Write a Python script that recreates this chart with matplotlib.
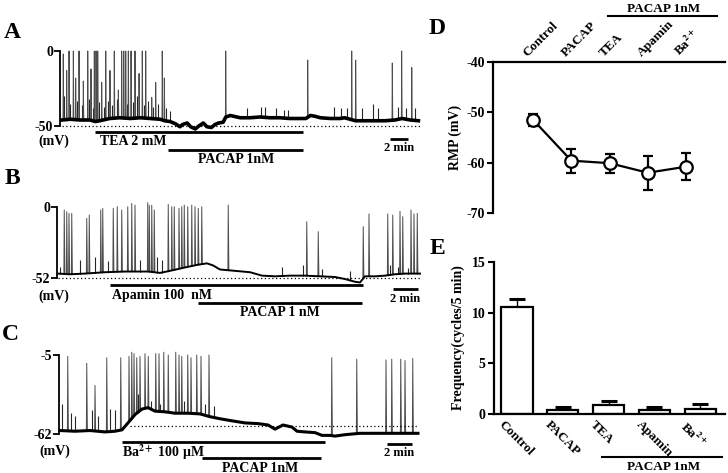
import matplotlib
matplotlib.use('Agg')
import numpy as np
import matplotlib.pyplot as plt
from matplotlib import transforms
from matplotlib.lines import Line2D

plt.rcParams['font.family'] = ['Liberation Serif', 'DejaVu Serif']
plt.rcParams['font.weight'] = 'bold'
plt.rcParams['axes.unicode_minus'] = False
plt.rcParams['mathtext.fontset'] = 'stix'

# ---------------- data ----------------
# Trace A (time in min, membrane potential in mV)
a_base_t = [0, 0.9, 2.0, 3.1, 3.7, 4.2, 5.3, 6.4, 7.6, 8.7, 9.8, 10.9, 11.4, 12.0, 12.6, 13.1,
            13.4, 13.9, 14.3, 14.8, 15.2, 15.7, 16.1, 16.6, 17.0, 17.4, 17.9, 18.2, 18.7, 19.8,
            20.9, 22.0, 23.1, 24.2, 25.3, 26.4, 27.1, 27.6, 28.1, 28.7, 29.8, 30.9, 31.4, 32.0,
            32.6, 33.7, 34.8, 35.9, 37.0, 37.8, 38.7, 39.6]
a_base_v = [-46, -45.5, -46, -46, -47, -46.5, -45, -44.5, -45, -44.5, -45, -45.5, -46.5, -47,
            -48.5, -50.5, -49, -48, -50.5, -52, -50, -48, -50.5, -51, -49, -48, -47.5, -44, -43,
            -44.5, -44.5, -44, -44.5, -44.5, -45, -45, -45, -43, -43.5, -44.5, -45, -45, -44.5,
            -45.5, -46.5, -46.5, -46.5, -46.5, -46, -45, -46, -46.5]
a_spk_t = [0.14, 0.52, 0.78, 1.26, 1.52, 1.89, 2.37, 2.86, 3.22, 3.59, 3.78, 3.97, 4.41, 4.86,
           5.33, 5.81, 6.26, 6.63, 6.86, 7.08, 7.37, 7.67, 8.11, 8.56, 8.92, 9.30, 9.97, 10.41,
           11.14, 11.37, 18.19, 27.3, 32.19, 32.63, 36.7, 37.74, 38.86]
a_spk_v = [-2, -13, 0, 0, -18, 0, -20, 0, -12, 0, 0, 0, -21, 0, -13, 0, -26, 0, 0, 0, 0, 0, 0,
           -15, 0, 0, -31, -21, 0, -18, 0, -6, 0, -6, -8, 0, -11]
a_evt_t = [0.22, 0.89, 1.67, 2.22, 3.0, 3.44, 4.11, 4.67, 5.11, 5.56, 6.11, 7.22, 7.89, 8.33,
           9.11, 9.56, 10.11, 10.67, 11.56, 12.0, 20.52, 22.11, 22.56, 23.74, 24.7, 25.14, 30.22,
           31.0, 31.63, 33.3, 34.59, 35.08, 37.37, 38.19, 39.22]
a_evt_v = [-30, -35, -33, -36, -32, -38, -34, -37, -33, -36, -32, -35, -34, -30, -36, -33, -37,
           -35, -38, -40, -38, -37, -37, -38, -39, -39, -37, -38, -38, -38, -35, -38, -37, -38, -38]
a_tea = (3.67, 26.8)
a_pacap = (11.8, 26.8)

# Trace B
b_base_t = [0, 0.96, 2.16, 3.76, 5.36, 7.2, 8.16, 8.96, 10.16, 11.2, 11.92, 12.4, 12.96, 14.16,
            15.36, 16.32, 17.36, 18.56, 19.76, 20.96, 22.16, 22.96, 23.76, 24.16, 24.56, 25.36,
            26.16, 26.96, 27.76, 28.96]
b_base_v = [-49, -49.5, -49, -48, -47.5, -47.5, -48.5, -47, -44.5, -42.5, -41.5, -43, -46, -47,
            -48, -50.5, -51, -50.5, -50.5, -51, -51.5, -53, -55, -55.5, -51, -51, -50.5, -49.5,
            -49, -49]
b_spk_t = [0.5, 0.7, 0.88, 1.1, 2.3, 2.5, 3.42, 3.58, 4.42, 4.74, 5.1, 5.58, 5.9, 6.16, 7.18,
           7.3, 7.5, 7.7, 8.82, 9.1, 9.3, 9.68, 9.9, 10.1, 10.38, 10.7, 10.96, 11.22, 11.5, 13.62,
           19.9, 20.82, 24.42, 24.88, 26.38, 26.78, 27.36, 27.58, 28.24, 28.48, 28.74]
b_spk_v = [-2.4, -3.7, -4.9, -4.9, -8.5, -6.1, -2.4, -1.2, -1.2, 0, -2.4, 0, 2.4, 1.2, 3, 1, 1,
           -2.4, 1.7, 0, 0, -1.2, 0, 1.2, 0, 1.2, 0, -1.2, 0, 1.2, -11, -18.3, -14.6, -5.3, -5.3,
           -6.1, -3.4, -7.3, -2.4, -5.3, -4.9]
b_evt_t = [0.16, 1.76, 2.96, 4.02, 6.56, 7.9, 8.3, 17.9, 19.62, 21.14, 23.36, 26.56, 27.18, 28.0, 28.7]
b_evt_v = [-44, -39, -37, -40, -39, -37, -39, -44, -43, -46, -47, -43, -44, -45, -44]
b_apamin = (4.16, 24.4)
b_pacap = (11.2, 24.3)

# Trace C
c_base_t = [0, 1.2, 2.4, 3.6, 4.4, 4.96, 5.44, 6.0, 6.56, 7.04, 7.6, 8.4, 9.2, 10.24, 11.2, 12.0,
            12.8, 13.76, 14.8, 15.84, 16.64, 17.2, 17.84, 18.56, 18.96, 19.6, 20.4, 20.96, 21.6,
            22.0, 22.8, 24.0, 25.2, 26.4, 27.6, 28.64]
c_base_v = [-59.5, -60, -59.5, -60.5, -60, -59, -54, -48, -44, -43, -45.5, -46, -47, -47, -47.5,
            -49.5, -51, -52.5, -54, -54.5, -55.5, -58.5, -55.5, -57, -60, -60.5, -61, -63, -63,
            -63.5, -62.5, -61.5, -61.5, -61.5, -61.5, -61.5]
c_spk_t = [0.62, 2.14, 2.8, 3.74, 4.86, 5.52, 5.74, 5.92, 6.14, 6.4, 6.8, 7.06, 7.66, 7.92, 8.3,
           8.66, 9.26, 9.52, 9.74, 10.22, 10.48, 10.94, 11.28, 11.92, 21.74, 23.74, 26.08, 26.54,
           27.26, 27.6, 28.22]
c_spk_v = [-6, -11, -27, -7, -7, -6, -3, -4, -7, -6, -4, -6, -4, -4, -3, -5, -3, -5, -6, -5, -7,
           -5, -6, -5, -7, -8, -8.5, -8, -8, -9, -7.5]
c_evt_t = [0.14, 0.88, 1.2, 2.54, 3.06, 4.0, 4.4, 6.2, 7.3, 8.0, 9.9, 11.6, 12.3]
c_evt_v = [-40, -47, -49, -45, -49, -44, -45, -33, -38, -40, -38, -40, -42]
c_ba = (4.96, 21.2)
c_pacap = (11.36, 20.88)

# Panel D: resting membrane potential
groups = ['Control', 'PACAP', 'TEA', 'Apamin', 'Ba$^{\\mathbf{2+}}$']
rmp_mean = [-51.5, -59.6, -60.1, -62.0, -60.8]
rmp_err = [1.2, 2.4, 1.9, 3.4, 2.7]

# Panel E: frequency
freq_mean = [10.6, 0.4, 0.9, 0.4, 0.5]
freq_err = [0.75, 0.25, 0.35, 0.25, 0.5]

# ---------------- figure ----------------
W, H = 728, 473
fig = plt.figure(figsize=(W / 100, H / 100), dpi=100)
FS = 10


def fx(x):
    return x / W


def fy(y):
    return 1 - y / H


def trace_axes(x0, x1, y0, y1, t0_px, ppm, v_ref, y_ref, ppv):
    ax = fig.add_axes([fx(x0), fy(y1), (x1 - x0) / W, (y1 - y0) / H])
    ax.set_xlim((x0 - t0_px) / ppm, (x1 - t0_px) / ppm)
    ax.set_ylim(v_ref - (y1 - y_ref) / ppv, v_ref + (y_ref - y0) / ppv)
    ax.patch.set_visible(False)
    for s in ['top', 'right', 'bottom']:
        ax.spines[s].set_visible(False)
    ax.set_xticks([])

    def yv(ypx):
        return v_ref - (ypx - y_ref) / ppv

    def tx(xpx):
        return (xpx - t0_px) / ppm
    return ax, yv, tx


def draw_trace(ax, bt, bv, st, sv, et, ev, lw_base):
    bt = np.asarray(bt, float)
    bv = np.asarray(bv, float)
    for t, v in zip(et, ev):
        b = np.interp(t, bt, bv)
        ax.plot([t, t], [b, v], color='0.15', lw=0.8, solid_capstyle='butt')
    for t, v in zip(st, sv):
        b = np.interp(t, bt, bv)
        ax.plot([t - 0.03, t, t + 0.05], [b, v, b], color='0.3', lw=0.7)
    ax.plot(bt, bv, color='k', lw=lw_base, solid_joinstyle='round')


def style_yaxis(ax, spine_t, lo, hi, labels):
    ax.spines['left'].set_position(('data', spine_t))
    ax.spines['left'].set_bounds(lo, hi)
    ax.spines['left'].set_linewidth(1.3)
    ax.set_yticks([lo, hi])
    ax.set_yticklabels(labels)
    ax.tick_params(axis='y', length=4, width=1.3, labelsize=FS, pad=1)


def bar(ax, t0, t1, y, lw=2.0):
    ax.plot([t0, t1], [y, y], color='k', lw=lw, solid_capstyle='butt', clip_on=False)


# ---- A ----
axA, yvA, txA = trace_axes(57, 425, 40, 170, 62, 9.0, 0.0, 51, 1.5)
draw_trace(axA, a_base_t, a_base_v, a_spk_t, a_spk_v, a_evt_t, a_evt_v, 2.6)
style_yaxis(axA, txA(60), -50, 0, ['-50', '0'])
axA.plot([0, txA(420)], [-50, -50], color='k', lw=0.9, ls=(0, (1, 2)))
bar(axA, *a_tea, yvA(132))
bar(axA, *a_pacap, yvA(150))
bar(axA, txA(390), txA(390) + 2, yvA(139))
fig.text(fx(100), fy(141), 'TEA 2 mM', ha='left', va='center', fontsize=FS)
fig.text(fx(236), fy(159), 'PACAP 1nM', ha='center', va='center', fontsize=FS)
fig.text(fx(399), fy(148), '2 min', ha='center', va='center', fontsize=9)
fig.text(fx(69), fy(141), '(mV)', ha='right', va='center', fontsize=FS)

# ---- B ----
axB, yvB, txB = trace_axes(55, 425, 195, 325, 58, 12.5, 0.0, 206.7, 1.365)
draw_trace(axB, b_base_t, b_base_v, b_spk_t, b_spk_v, b_evt_t, b_evt_v, 1.4)
style_yaxis(axB, txB(57.3), -52, 0, ['-52', '0'])
axB.plot([0, txB(420)], [-52, -52], color='k', lw=0.9, ls=(0, (1, 2)))
bar(axB, *b_apamin, yvB(285))
bar(axB, *b_pacap, yvB(303))
bar(axB, txB(393), txB(393) + 2, yvB(289))
fig.text(fx(112), fy(296), 'Apamin 100  nM', ha='left', va='center', fontsize=FS)
fig.text(fx(280), fy(312), 'PACAP 1 nM', ha='center', va='center', fontsize=FS)
fig.text(fx(405), fy(299), '2 min', ha='center', va='center', fontsize=9)
fig.text(fx(69), fy(296), '(mV)', ha='right', va='center', fontsize=FS)

# ---- C ----
axC, yvC, txC = trace_axes(55, 425, 340, 473, 60, 12.5, -5.0, 355, 1.386)
draw_trace(axC, c_base_t, c_base_v, c_spk_t, c_spk_v, c_evt_t, c_evt_v, 2.2)
style_yaxis(axC, txC(59.3), -62, -5, ['-62', '-5'])
axC.plot([txC(130), txC(417)], [-56, -56], color='k', lw=0.9, ls=(0, (1, 2)))
bar(axC, *c_ba, yvC(442.3))
bar(axC, *c_pacap, yvC(458.3))
bar(axC, txC(387), txC(387) + 2, yvC(444))
fig.text(fx(122), fy(452), 'Ba$^{\\mathbf{2+}}$ 100 µM', ha='left', va='center', fontsize=FS)
fig.text(fx(260), fy(468), 'PACAP 1nM', ha='center', va='center', fontsize=FS)
fig.text(fx(399), fy(453), '2 min', ha='center', va='center', fontsize=9)
fig.text(fx(70), fy(451), '(mV)', ha='right', va='center', fontsize=FS)

# ---- D ----
xs = np.arange(len(groups))
axD = fig.add_axes([fx(493), fy(213), (725 - 493) / W, (213 - 62) / H])
axD.set_ylim(-70, -40)
axD.set_xlim(-1.05, 5.02)
axD.patch.set_visible(False)
axD.spines['bottom'].set_visible(False)
axD.spines['right'].set_visible(False)
axD.spines['top'].set_linewidth(1.6)
axD.spines['left'].set_linewidth(1.6)
axD.set_xticks([])
axD.set_yticks([-70, -60, -50, -40])
axD.set_yticklabels(['-70', '-60', '-50', '-40'])
axD.tick_params(axis='y', length=4, width=1.5, labelsize=FS, pad=2)
axD.plot(xs, rmp_mean, color='k', lw=1.6, zorder=2)
axD.errorbar(xs, rmp_mean, yerr=rmp_err, fmt='o', ms=9, mfc='white', mec='k', mew=1.6,
             ecolor='k', elinewidth=1.6, capsize=3.5, capthick=1.6, zorder=3)
trD = transforms.offset_copy(axD.get_xaxis_transform(), fig=fig, x=-6, y=5, units='dots')
for i, lab in enumerate(groups):
    axD.text(i, 1, lab, transform=trD, rotation=45, rotation_mode='anchor',
             ha='left', va='baseline', fontsize=9.5)
fig.add_artist(Line2D([fx(608), fx(717)], [fy(16), fy(16)], color='k', lw=1.5))
fig.text(fx(664), fy(9), 'PACAP 1nM', ha='center', va='center', fontsize=9.5)
fig.text(fx(455), fy(137), 'RMP (mV)', rotation=90, ha='center', va='center', fontsize=FS)

# ---- E ----
axE = fig.add_axes([fx(494), fy(414), (725 - 494) / W, (414 - 262) / H])
axE.set_ylim(0, 15)
axE.set_xlim(-0.5, 4.54)
axE.patch.set_visible(False)
axE.spines['top'].set_visible(False)
axE.spines['right'].set_visible(False)
axE.spines['bottom'].set_linewidth(1.6)
axE.spines['left'].set_linewidth(1.6)
axE.set_xticks([])
axE.set_yticks([0, 5, 10, 15])
axE.tick_params(axis='y', length=4, width=1.5, labelsize=FS, pad=2)
axE.errorbar(xs, freq_mean, yerr=[np.zeros(len(xs)), freq_err], fmt='none', ecolor='k',
             elinewidth=1.0, capsize=5.5, capthick=2.2, zorder=1)
axE.bar(xs, freq_mean, width=0.68, color='white', edgecolor='k', lw=1.6, zorder=2)
trE = transforms.offset_copy(axE.get_xaxis_transform(), fig=fig, x=-12, y=-5, units='dots')
for i, lab in enumerate(groups):
    axE.text(i, 0, lab, transform=trE, rotation=-45, rotation_mode='anchor',
             ha='left', va='top', fontsize=9.5)
fig.add_artist(Line2D([fx(602), fx(722)], [fy(457), fy(457)], color='k', lw=1.5))
fig.text(fx(664), fy(467), 'PACAP 1nM', ha='center', va='center', fontsize=9.5)
fig.text(fx(458), fy(338), 'Frequency(cycles/5 min)', rotation=90, ha='center', va='center',
         fontsize=FS)

# panel letters
for lab, (px_, py_) in zip('ABCDE', [(12, 32), (12, 178), (10, 334), (437, 28), (437, 248)]):
    fig.text(fx(px_), fy(py_), lab, ha='center', va='center', fontsize=17)

fig.savefig('out.png', dpi=100)
